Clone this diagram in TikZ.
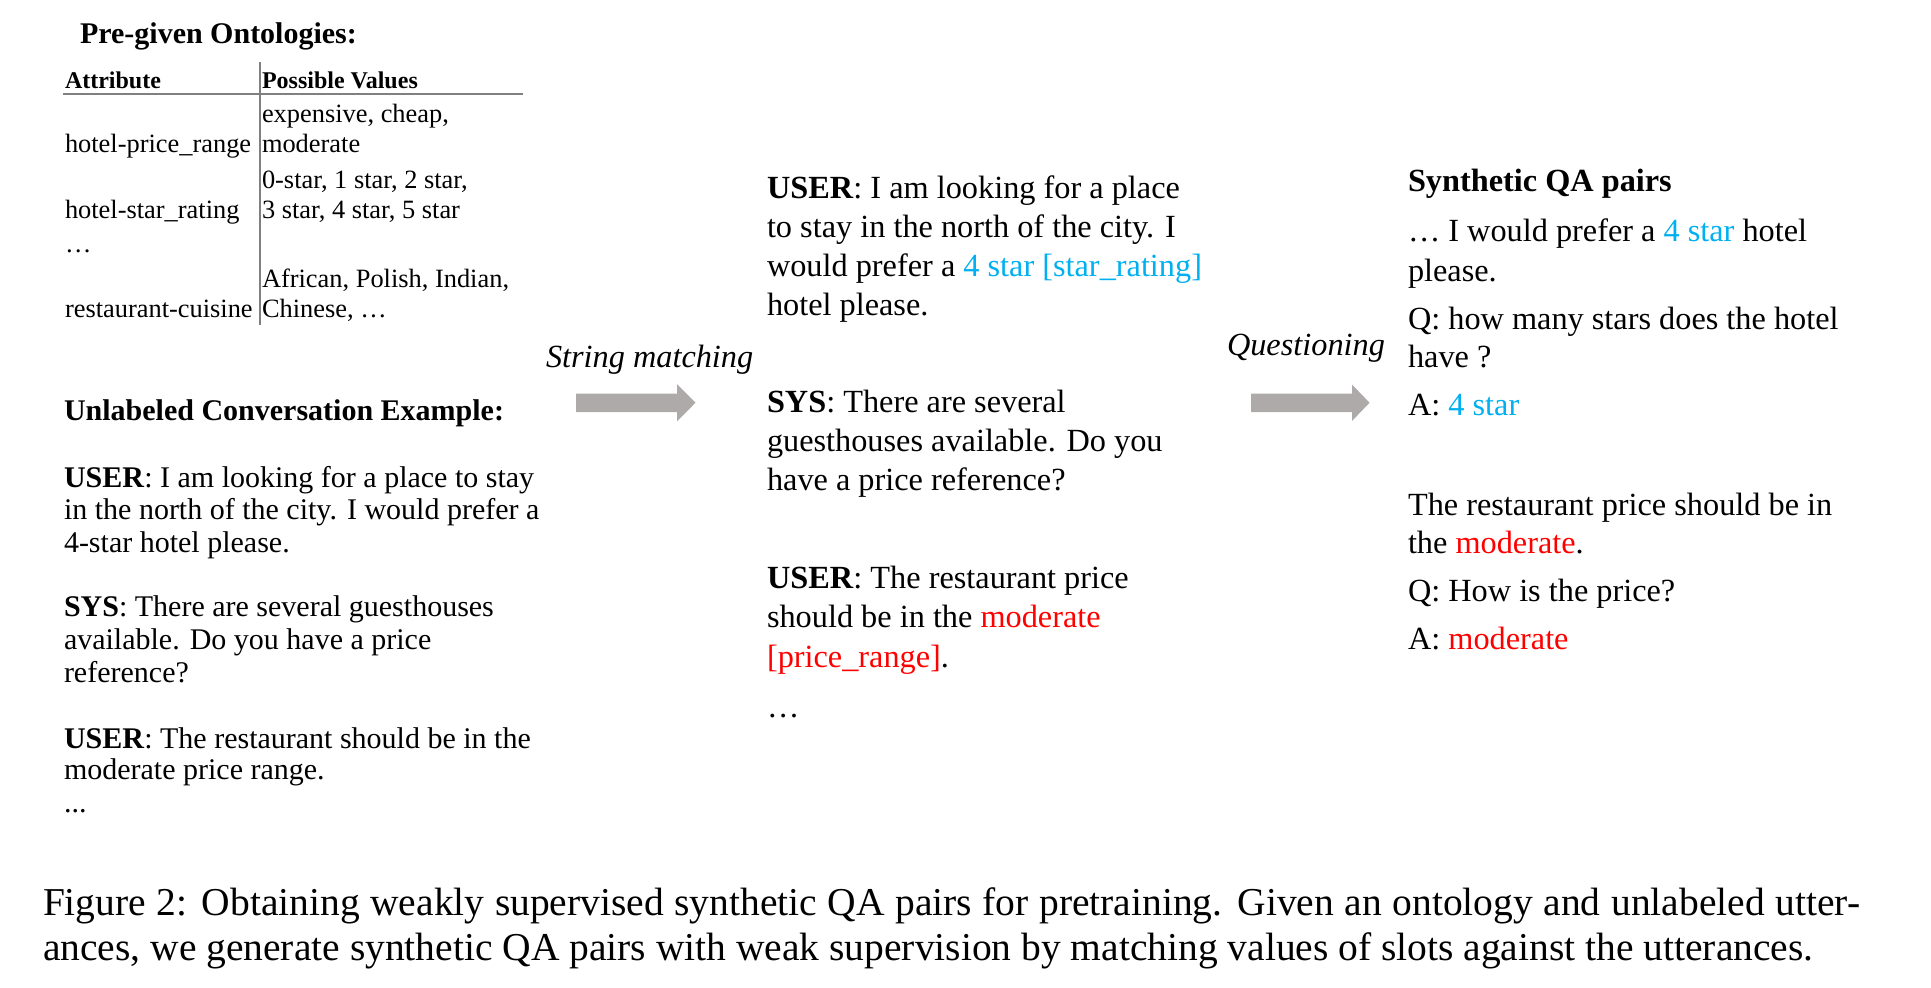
\documentclass[tikz,border=0pt]{standalone}
\usepackage{fontspec}
\setmainfont{Liberation Serif}
\definecolor{qblue}{RGB}{0,176,240}
\definecolor{qred}{RGB}{255,0,0}
\definecolor{arrowgray}{RGB}{174,170,170}
\definecolor{rulegray}{RGB}{128,128,128}
\newcommand{\fsTitle}{\fontsize{31bp}{36bp}\selectfont}
\newcommand{\fsTabHead}{\fontsize{24bp}{28bp}\selectfont}
\newcommand{\fsTab}{\fontsize{26.4bp}{30bp}\selectfont}
\newcommand{\fsLeft}{\fontsize{30bp}{33bp}\selectfont}
\newcommand{\fsMid}{\fontsize{32.3bp}{39bp}\selectfont}
\newcommand{\fsCap}{\fontsize{39.5bp}{49bp}\selectfont}
\tikzset{
  txt/.style={anchor=base west, inner sep=0pt, outer sep=0pt, text=black},
  titletxt/.style={txt, font=\fsTitle\bfseries},
  tabhead/.style={txt, font=\fsTabHead\bfseries},
  tabtxt/.style={txt, font=\fsTab},
  lefttxt/.style={txt, font=\fsLeft},
  midtxt/.style={txt, font=\fsMid},
  captxt/.style={txt, font=\fsCap},
  blockarrow/.style={fill=arrowgray, draw=none},
  tabrule/.style={draw=rulegray, line width=2bp}
}
\begin{document}
\begin{tikzpicture}[x=1bp,y=-1bp]
\useasboundingbox (0,0) rectangle (1931,987);

% ---------- Ontology table ----------
\node[txt, font=\fsLeft\bfseries] (ontotitle) at (80,43) {Pre-given Ontologies:};
\node[tabhead] (hattr) at (65,88) {Attribute};
\node[tabhead] (hval) at (262,88) {Possible Values};
\draw[tabrule] (63,93.5) -- (523,93.5);
\draw[tabrule] (260,62) -- (260,325);
\node[tabtxt] (v1a) at (262,122) {expensive, cheap,};
\node[tabtxt] (a1) at (65,152) {hotel-price\_range};
\node[tabtxt] (v1b) at (262,152) {moderate};
\node[tabtxt] (v2a) at (262,188) {0-star, 1 star, 2 star,};
\node[tabtxt] (a2) at (65,218) {hotel-star\_rating};
\node[tabtxt] (v2b) at (262,218) {3 star, 4 star, 5 star};
\node[tabtxt] (a3) at (65,252) {…};
\node[tabtxt] (v4a) at (262,287) {African, Polish, Indian,};
\node[tabtxt] (a4) at (65,317) {restaurant-cuisine};
\node[tabtxt] (v4b) at (262,317) {Chinese, …};

% ---------- Unlabeled conversation ----------
\node[txt, font=\fsLeft\bfseries] (convtitle) at (64,420) {Unlabeled Conversation Example:};
\node[lefttxt] (c1) at (64,487) {\textbf{USER}: I am looking for a place to stay};
\node[lefttxt] (c2) at (64,519.5) {in the north of the city. I would prefer a};
\node[lefttxt] (c3) at (64,552) {4-star hotel please.};
\node[lefttxt] (c4) at (64,616.5) {\textbf{SYS}: There are several guesthouses};
\node[lefttxt] (c5) at (64,649.5) {available. Do you have a price};
\node[lefttxt] (c6) at (64,682) {reference?};
\node[lefttxt] (c7) at (64,748) {\textbf{USER}: The restaurant should be in the};
\node[lefttxt] (c8) at (64,779.5) {moderate price range.};
\node[lefttxt] (c9) at (64,812) {...};

% ---------- String matching arrow ----------
\node[txt, font=\fsMid\itshape] (smlabel) at (546,367) {String matching};
\fill[blockarrow] (576,393.5) -- (677,393.5) -- (677,384) -- (695.5,402.7)
  -- (677,421.4) -- (677,412) -- (576,412) -- cycle;

% ---------- Labeled conversation ----------
\node[midtxt] (m1) at (767,198) {\textbf{USER}: I am looking for a place};
\node[midtxt] (m2) at (767,237.5) {to stay in the north of the city. I};
\node[midtxt] (m3) at (767,276.5) {would prefer a \textcolor{qblue}{4 star [star\_rating]}};
\node[midtxt] (m4) at (767,315) {hotel please.};
\node[midtxt] (m5) at (767,412) {\textbf{SYS}: There are several};
\node[midtxt] (m6) at (767,451) {guesthouses available. Do you};
\node[midtxt] (m7) at (767,490) {have a price reference?};
\node[midtxt] (m8) at (767,588) {\textbf{USER}: The restaurant price};
\node[midtxt] (m9) at (767,627) {should be in the \textcolor{qred}{moderate}};
\node[midtxt] (m10) at (767,667) {\textcolor{qred}{[price\_range]}.};
\node[midtxt] (m11) at (767,717) {…};

% ---------- Questioning arrow ----------
\node[txt, font=\fsMid\itshape] (qlabel) at (1227,355) {Questioning};
\fill[blockarrow] (1251,393.5) -- (1352,393.5) -- (1352,384.5) -- (1369.5,402.7)
  -- (1352,421) -- (1352,412) -- (1251,412) -- cycle;

% ---------- Synthetic QA pairs ----------
\node[txt, font=\fsMid\bfseries] (qatitle) at (1408,191) {Synthetic QA pairs};
\node[midtxt] (r1) at (1408,241) {… I would prefer a \textcolor{qblue}{4 star} hotel};
\node[midtxt] (r2) at (1408,281) {please.};
\node[midtxt] (r3) at (1408,329) {Q: how many stars does the hotel};
\node[midtxt] (r4) at (1408,367) {have ?};
\node[midtxt] (r5) at (1408,415) {A: \textcolor{qblue}{4 star}};
\node[midtxt] (r6) at (1408,515) {The restaurant price should be in};
\node[midtxt] (r7) at (1408,553) {the \textcolor{qred}{moderate}.};
\node[midtxt] (r8) at (1408,601) {Q: How is the price?};
\node[midtxt] (r9) at (1408,649) {A: \textcolor{qred}{moderate}};

% ---------- Caption ----------
\node[captxt] (cap1) at (43,915.5) {\hbox to 1817bp{Figure 2: Obtaining weakly supervised synthetic QA pairs for pretraining. Given an ontology and unlabeled utter-}};
\node[captxt] (cap2) at (43,960.5) {ances, we generate synthetic QA pairs with weak supervision by matching values of slots against the utterances.};
\end{tikzpicture}
\end{document}
